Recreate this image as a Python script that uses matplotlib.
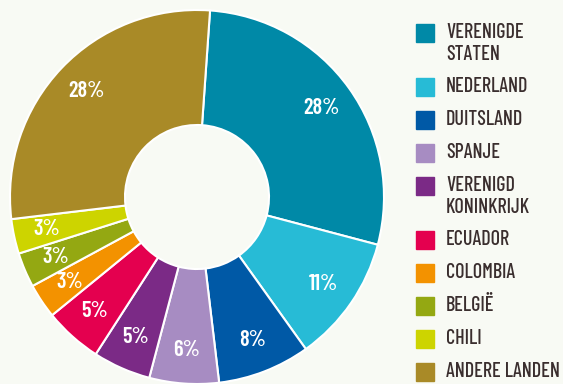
import matplotlib.pyplot as plt
from matplotlib.patches import Rectangle

# export shares per country (percent)
landen = ["VERENIGDE\nSTATEN", "NEDERLAND", "DUITSLAND", "SPANJE", "VERENIGD\nKONINKRIJK",
          "ECUADOR", "COLOMBIA", "BELGIË", "CHILI", "ANDERE LANDEN"]
aandeel = [28, 11, 8, 6, 5, 5, 3, 3, 3, 28]
kleuren = ["#0089a7", "#27bbd6", "#0059a6", "#a78cc2", "#7b2a86",
           "#e4004f", "#f39200", "#94a812", "#cdd400", "#a98a27"]

bg = "#f8faf4"
fnt = "Barlow Condensed"

fig = plt.figure(figsize=(5.63, 3.84), dpi=100, facecolor=bg)
W, H = 563, 384

# donut: center (197,197) px, radius 187 px
cx, cy, r = 197, 197, 187
ax = fig.add_axes([(cx - r) / W, (H - cy - r) / H, 2 * r / W, 2 * r / H])
ax.set_facecolor(bg)
wedges, texts, autotexts = ax.pie(
    aandeel, colors=kleuren, startangle=86, counterclock=False,
    radius=1, autopct="%d%%", pctdistance=0.82,
    wedgeprops=dict(width=0.615, edgecolor="white", linewidth=1.5),
    textprops=dict(color="white", fontsize=16, fontweight="semibold", family=fnt))
ax.set_xlim(-1, 1)
ax.set_ylim(-1, 1)
ax.set_aspect("equal")
ax.axis("off")

# legend, drawn by hand in pixel coordinates
y = 24
for naam, kl in zip(landen, kleuren):
    fig.patches.append(Rectangle((416 / W, 1 - (y + 18) / H), 18 / W, 18 / H,
                                 transform=fig.transFigure, color=kl))
    fig.text(446 / W, 1 - (y - 1) / H, naam, ha="left", va="top",
             fontsize=14.5, fontweight="medium", family=fnt, color="#3a2e2e",
             linespacing=1.2)
    y += 33 + 21 * naam.count("\n")

fig.savefig("out.png", dpi=100, facecolor=bg)
